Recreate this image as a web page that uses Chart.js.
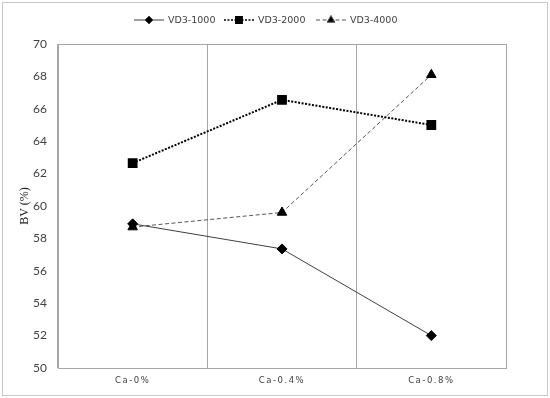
<!DOCTYPE html>
<html lang="en">
<head>
<meta charset="UTF-8">
<title>BV chart</title>
<script src="https://cdn.jsdelivr.net/npm/chart.js"></script>
<style>
  html, body { margin: 0; padding: 0; background: #fff; }
  .wrap { width: 550px; height: 398px; position: relative; }
  .frame { position: absolute; left: 2px; top: 2px; width: 544px; height: 392px; border: 1px solid #c8c8c8; pointer-events: none; }
</style>
</head>
<body>
<div class="wrap">
  <canvas id="bvChart" width="550" height="398"></canvas>
  <div class="frame"></div>
</div>
<script>
const categories = ['Ca-0%', 'Ca-0.4%', 'Ca-0.8%'];
const seriesNames = ['VD3-1000', 'VD3-2000', 'VD3-4000'];
const vd3_1000 = [58.9, 57.35, 52.0];
const vd3_2000 = [62.65, 66.55, 65.0];
const vd3_4000 = [58.7, 59.6, 68.1];
const yTicks = [50, 52, 54, 56, 58, 60, 62, 64, 66, 68, 70];
const yTitle = 'BV (%)';

const gridGray = '#a6a6a6';

// x labels are letter-spaced in the original; their layer (ticks.z: 1) is drawn after the datasets
const spacing = {
  id: 'spacing',
  afterDatasetsDraw(chart) { chart.ctx.letterSpacing = '1.5px'; },
  afterDraw(chart) {
    const ctx = chart.ctx, a = chart.chartArea;
    ctx.letterSpacing = '0px';
    ctx.save();
    // right edge of the plot frame
    ctx.strokeStyle = gridGray;
    ctx.lineWidth = 1;
    ctx.beginPath();
    ctx.moveTo(Math.round(a.right) + 0.5, a.top);
    ctx.lineTo(Math.round(a.right) + 0.5, a.bottom);
    ctx.stroke();
    // y axis title
    ctx.translate(25, (a.top + a.bottom) / 2);
    ctx.rotate(-Math.PI / 2);
    ctx.font = '12px "Liberation Serif"';
    ctx.fillStyle = '#202020';
    ctx.textAlign = 'center';
    ctx.textBaseline = 'middle';
    ctx.fillText(yTitle, 0, 0);
    ctx.restore();
  }
};

// legend drawn by hand so each entry shows the line style with its marker
const lineLegend = {
  id: 'lineLegend',
  afterDraw(chart) {
    const ctx = chart.ctx;
    const starts = [134, 224, 316];
    ctx.save();
    ctx.letterSpacing = '0px';
    ctx.font = '9.5px "DejaVu Sans"';
    ctx.textBaseline = 'middle';
    chart.data.datasets.forEach((ds, i) => {
      const x0 = starts[i], y = 20;
      ctx.strokeStyle = ds.borderColor;
      ctx.lineWidth = Math.min(ds.borderWidth, 1.5);
      ctx.setLineDash(ds.borderDash || []);
      ctx.beginPath();
      ctx.moveTo(x0, y);
      ctx.lineTo(x0 + 30, y);
      ctx.stroke();
      ctx.setLineDash([]);
      ctx.fillStyle = '#000';
      Chart.helpers.drawPoint(ctx, {
        pointStyle: ds.pointStyle, radius: ds.pointRadius - 1, borderWidth: 1
      }, x0 + 15, y);
      ctx.fillStyle = '#404040';
      ctx.fillText(ds.label, x0 + 34, y + 1);
    });
    ctx.restore();
  }
};

new Chart(document.getElementById('bvChart'), {
  type: 'line',
  data: {
    labels: categories,
    datasets: [
      {
        label: seriesNames[0], data: vd3_1000,
        borderColor: '#404040', borderWidth: 1,
        pointStyle: 'rectRot', pointRadius: 5,
        pointBackgroundColor: '#000', pointBorderColor: '#000'
      },
      {
        label: seriesNames[1], data: vd3_2000,
        borderColor: '#000', borderWidth: 2, borderDash: [2, 1.5],
        pointStyle: 'rect', pointRadius: 5.5,
        pointBackgroundColor: '#000', pointBorderColor: '#000'
      },
      {
        label: seriesNames[2], data: vd3_4000,
        borderColor: '#555', borderWidth: 1, borderDash: [4, 2.5],
        pointStyle: 'triangle', pointRadius: 5.5,
        pointBackgroundColor: '#000', pointBorderColor: '#000'
      }
    ]
  },
  options: {
    responsive: false,
    animation: false,
    layout: { padding: { top: 44, right: 44, left: 2, bottom: 3 } },
    plugins: { legend: { display: false }, tooltip: { enabled: false } },
    scales: {
      x: {
        offset: true,
        grid: { offset: true, color: gridGray, drawTicks: false },
        border: { color: gridGray },
        ticks: { z: 1, color: '#404040', padding: 8, font: { family: 'DejaVu Sans', size: 8.5 } },
        afterFit(scale) { scale.height = 27; }
      },
      y: {
        min: 50, max: 70,
        afterBuildTicks(scale) { scale.ticks = yTicks.map(v => ({ value: v })); },
        grid: {
          drawTicks: false,
          color: c => (c.tick && c.tick.value === 70 ? gridGray : 'rgba(0,0,0,0)')
        },
        border: { color: gridGray },
        ticks: { color: '#404040', padding: 11, font: { family: 'Lato', size: 12 } },
        afterFit(scale) { scale.width = 56; }
      }
    }
  },
  plugins: [spacing, lineLegend]
});
</script>
</body>
</html>
